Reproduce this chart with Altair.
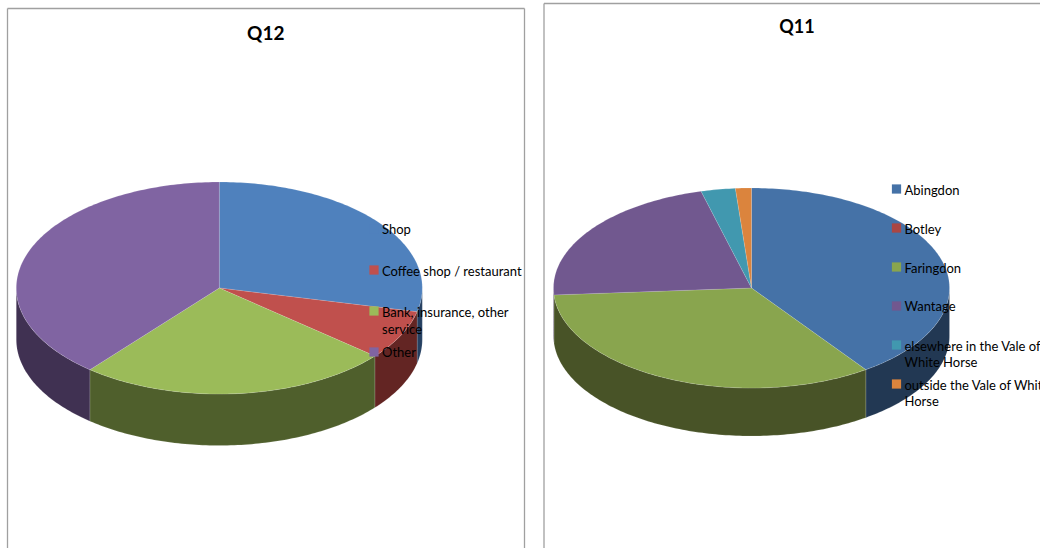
import math
import altair as alt
import pandas as pd

# Survey answers, as shares of each question's responses
Q12_LABELS = ["Shop", "Coffee shop / restaurant", "Bank, insurance, other service", "Other"]
Q12_VALUES = [28.6, 7.5, 24.9, 39.0]
Q12_TOP = ["#4F81BD", "#C0504D", "#9BBB59", "#8064A2"]
Q12_SIDE = ["#254061", "#632523", "#4F5F2C", "#403152"]

Q11_LABELS = ["Abingdon", "Botley", "Faringdon", "Wantage",
              "elsewhere in the Vale of White Horse", "outside the Vale of White Horse"]
Q11_VALUES = [40.2, 0.0, 33.7, 22.0, 2.8, 1.3]
Q11_TOP = ["#4572A7", "#AA4643", "#89A54E", "#71588F", "#4198AF", "#DB843D"]
Q11_SIDE = ["#223853", "#552322", "#485327", "#382C47", "#204C57", "#6D421E"]

# Tilted-disc geometry of each pie: centre, radii and rim depth
Q12_DISC = dict(cx=219.3, cy=288.0, rx=203.0, ry=106.0, depth=51.5)
Q11_DISC = dict(cx=751.5, cy=288.0, rx=198.0, ry=100.0, depth=48.0)


def rim_point(disc, deg, drop=0.0):
    a = math.radians(deg)
    return disc["cx"] + disc["rx"] * math.sin(a), disc["cy"] - disc["ry"] * math.cos(a) + drop


def arc_angles(start, end):
    n = max(2, int(math.ceil(end - start)) + 1)
    return [start + (end - start) * k / (n - 1) for k in range(n)]


def slice_rows(name, values, top_colors, side_colors, disc):
    tops, sides = [], []
    total = sum(values)
    start = 0.0
    for idx, v in enumerate(values):
        end = start + 360.0 * v / total
        if v > 0:
            key = f"{name}-{idx}"
            pts = [(disc["cx"], disc["cy"])]
            pts += [rim_point(disc, d) for d in arc_angles(start, end)]
            pts.append((disc["cx"], disc["cy"]))
            for i, (x, y) in enumerate(pts):
                tops.append(dict(x=x, y=y, key=key, colour=top_colors[idx], i=i))
            lo, hi = max(start, 90.0), min(end, 270.0)
            if hi > lo:
                ang = arc_angles(lo, hi)
                wall = [rim_point(disc, d) for d in ang]
                wall += [rim_point(disc, d, disc["depth"]) for d in reversed(ang)]
                wall.append(wall[0])
                for i, (x, y) in enumerate(wall):
                    sides.append(dict(x=x, y=y, key=key, colour=side_colors[idx], i=i))
        start = end
    return tops, sides


q12_tops, q12_sides = slice_rows("q12", Q12_VALUES, Q12_TOP, Q12_SIDE, Q12_DISC)
q11_tops, q11_sides = slice_rows("q11", Q11_VALUES, Q11_TOP, Q11_SIDE, Q11_DISC)
tops = pd.DataFrame(q12_tops + q11_tops)
sides = pd.DataFrame(q12_sides + q11_sides)

x_scale = alt.Scale(domain=[0, 1040], nice=False, zero=False)
y_scale = alt.Scale(domain=[548, 0], nice=False, zero=False)
X = alt.X("x:Q", scale=x_scale, axis=None)
Y = alt.Y("y:Q", scale=y_scale, axis=None)
FONT = "Lato"


def disc_layer(frame, **mark_args):
    return alt.Chart(frame).mark_line(interpolate="linear", **mark_args).encode(
        x=X, y=Y,
        detail="key:N",
        order="i:Q",
        fill=alt.Fill("colour:N", scale=None, legend=None),
    )


side_layer = disc_layer(sides, stroke="#ffffff", strokeOpacity=0.25, strokeWidth=0.5)
top_layer = disc_layer(tops, stroke="#ffffff", strokeOpacity=0.25, strokeWidth=0.5)

# Chart-area borders: both run off the bottom of the page
frames = pd.DataFrame([
    dict(x=7.5, x2=524.5, y=8.5, y2=8.5),
    dict(x=7.5, x2=7.5, y=8.5, y2=548),
    dict(x=524.5, x2=524.5, y=8.5, y2=548),
    dict(x=544, x2=1040, y=3.5, y2=3.5),
    dict(x=544, x2=544, y=3.5, y2=548),
])
frame_layer = alt.Chart(frames).mark_rule(color="#A0A0A0", strokeWidth=1.3).encode(
    x=X, x2="x2:Q", y=Y, y2="y2:Q"
)

titles = pd.DataFrame([
    dict(x=265.8, y=34, t="Q12", size=19),
    dict(x=797, y=28, t="Q11", size=18),
])
title_layer = alt.Chart(titles).mark_text(
    font=FONT, fontWeight="bold", color="#000000", align="center", baseline="middle"
).encode(x=X, y=Y, text="t:N", size=alt.Size("size:Q", scale=None, legend=None))

# Legend entries, with long names wrapped onto a second line
Q12_SWATCH_Y = [229, 270, 311, 352]
Q11_SWATCH_Y = [189, 228, 267, 306, 345, 384]
swatches = pd.DataFrame(
    [dict(x=374, y=y, colour=c) for y, c in zip(Q12_SWATCH_Y, Q12_TOP)]
    + [dict(x=896.5, y=y, colour=c) for y, c in zip(Q11_SWATCH_Y, Q11_TOP)]
)
swatch_layer = alt.Chart(swatches).mark_square(size=85, opacity=1).encode(
    x=X, y=Y, fill=alt.Fill("colour:N", scale=None, legend=None)
)

legend_text = pd.DataFrame(
    [dict(x=382, y=y, t=t) for y, t in [
        (230, "Shop"),
        (271.5, "Coffee shop / restaurant"),
        (312.5, "Bank, insurance, other"),
        (329.5, "service"),
        (353, "Other"),
    ]]
    + [dict(x=904.5, y=y, t=t) for y, t in [
        (190.5, "Abingdon"),
        (229.5, "Botley"),
        (268.5, "Faringdon"),
        (306.5, "Wantage"),
        (346.5, "elsewhere in the Vale of"),
        (362.5, "White Horse"),
        (385.5, "outside the Vale of White"),
        (401.5, "Horse"),
    ]]
)
legend_layer = alt.Chart(legend_text).mark_text(
    font=FONT, fontSize=13, color="#000000", align="left", baseline="middle", clip=True
).encode(x=X, y=Y, text="t:N")

chart = alt.layer(
    frame_layer, side_layer, top_layer, swatch_layer, legend_layer, title_layer
).properties(
    width=1040, height=548, padding=0, background="#ffffff",
    autosize=alt.AutoSizeParams(type="none"),
).configure_view(stroke=None)

chart.save("out.html", embed_options={"renderer": "svg", "actions": False})
